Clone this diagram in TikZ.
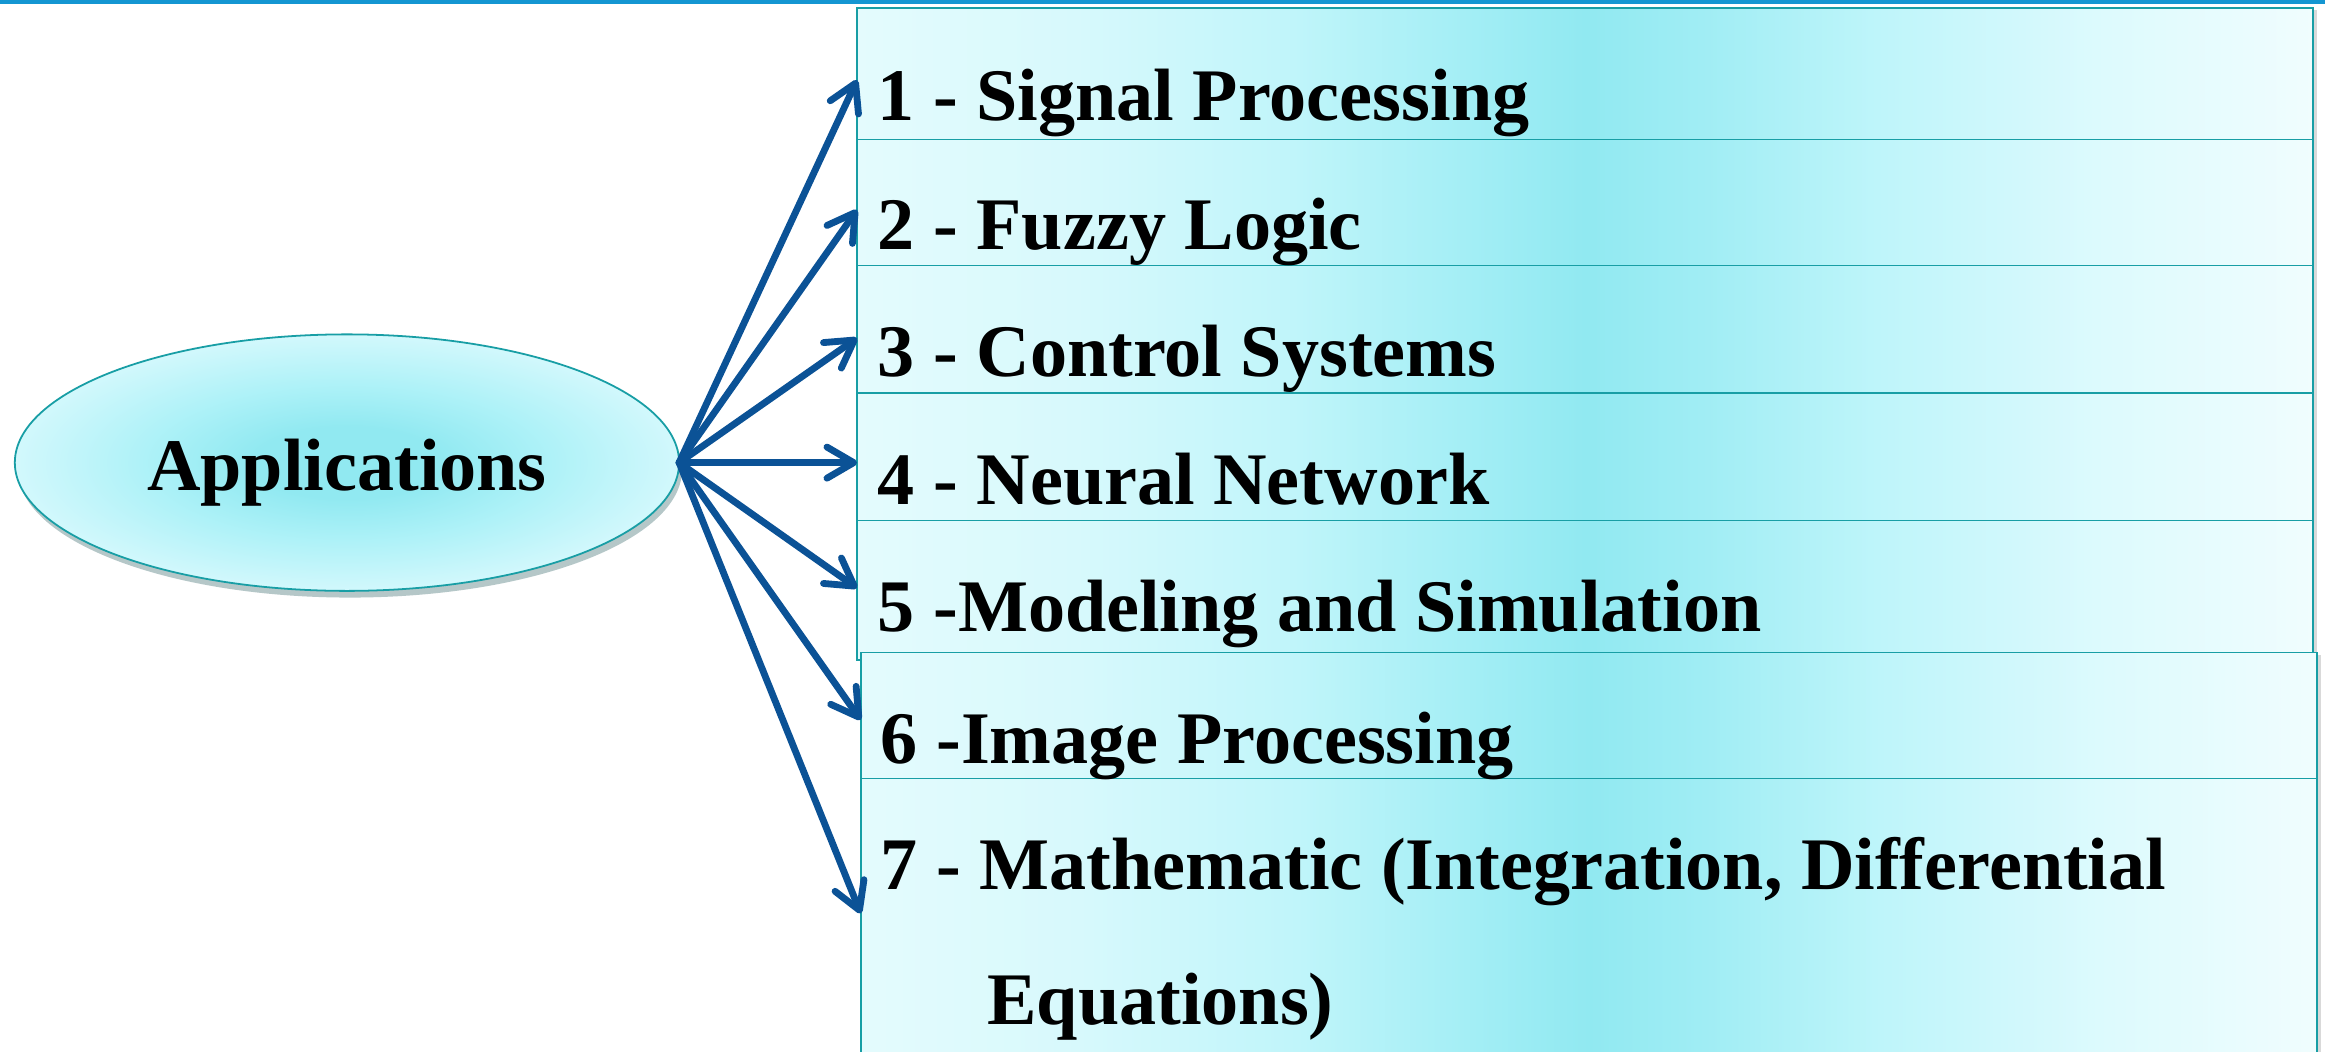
\documentclass[tikz,border=0pt]{standalone}
\usepackage{fontspec}
\setmainfont{Liberation Serif}
\usetikzlibrary{arrows.meta,shadows,shapes.geometric}
\definecolor{topblue}{RGB}{20,150,210}
\definecolor{arrblue}{RGB}{11,82,150}
\definecolor{tealline}{RGB}{24,158,165}
\definecolor{cyC}{RGB}{145,233,241}
\definecolor{cyQ}{RGB}{162,238,245}
\definecolor{cyM}{RGB}{184,245,250}
\definecolor{cyL}{RGB}{210,248,252}
\definecolor{cyE}{RGB}{228,251,253}
\definecolor{cyR}{RGB}{240,253,254}
\definecolor{s1}{RGB}{215,249,252}
\definecolor{s2}{RGB}{192,245,250}
\definecolor{s3}{RGB}{163,238,245}
\definecolor{s4}{RGB}{160,237,244}
\definecolor{s5}{RGB}{190,245,250}
\definecolor{s6}{RGB}{220,250,253}
\pgfdeclarehorizontalshading{boxshade}{100bp}{color(0bp)=(cyE); color(25bp)=(cyE); color(32.5bp)=(s1); color(40bp)=(s2); color(46bp)=(s3); color(50bp)=(cyC); color(54bp)=(s4); color(60bp)=(s5); color(67.5bp)=(s6); color(75bp)=(cyR); color(100bp)=(cyR)}
\pgfdeclareradialshading{ellshade}{\pgfpoint{0bp}{0bp}}{color(0bp)=(cyC); color(7bp)=(cyC); color(15bp)=(cyQ!50!cyM); color(25bp)=(cyL); color(50bp)=(cyL)}
\begin{document}
\begin{tikzpicture}[x=1pt,y=-1pt,
  every node/.style={inner sep=0pt, outer sep=0pt},
  itembox/.style={draw=tealline, line width=1.1pt, rectangle, shade, shading=boxshade,
    anchor=north west, minimum width=982pt,
    drop shadow={shadow xshift=2.5pt, shadow yshift=-1.5pt, opacity=0.15, fill=black}},
  lbl/.style={anchor=base west, font=\fontsize{50}{60}\selectfont\bfseries, text=black},
  arr/.style={draw=arrblue, line width=4.6pt, line cap=round,
    -{Straight Barb[length=18pt,width=21pt,line cap=round,line join=round]}}
]
\useasboundingbox (0,0) rectangle (1568,709);
\clip (0,0) rectangle (1568,709);
\fill[white] (0,0) rectangle (1568,709);
\fill[topblue] (0,0) rectangle (1568,2.5);

% ellipse
\node[draw=tealline, line width=1.2pt, ellipse, minimum width=448pt, minimum height=173pt,
  shade, shading=ellshade,
  drop shadow={shadow xshift=2pt, shadow yshift=-4.5pt, opacity=0.3, fill=tealline!45!black}] (app) at (234,312) {};
\node[lbl, anchor=base] (apt) at (234,330.5) {Applications};

% boxes
\node[itembox, minimum height=88.5pt] (b1) at (578,5.5) {};
\node[itembox, minimum height=85pt] (b2) at (578,94) {};
\node[itembox, minimum height=86pt] (b3) at (578,179) {};
\node[itembox, minimum height=86pt] (b4) at (578,265) {};
\node[itembox, minimum height=94pt] (b5) at (578,351) {};
\node[itembox, minimum height=85pt] (b6) at (580.5,440) {};
\node[itembox, minimum height=200pt] (b7) at (580.5,525) {};

% labels
\node[lbl] (l1) at (592,81) {1 - Signal Processing};
\node[lbl] (l2) at (592,168) {2 - Fuzzy Logic};
\node[lbl] (l3) at (592,254) {3 - Control Systems};
\node[lbl] (l4) at (592,340) {4 - Neural Network};
\node[lbl] (l5) at (592,426) {5 -Modeling and Simulation};
\node[lbl] (l6) at (594,515) {6 -Image Processing};
\node[lbl] (l7) at (594,600) {7 - Mathematic (Integration, Differential};
\node[lbl] (l7b) at (666,691) {Equations)};

% arrows
\draw[arr] (app.east) -- ([yshift=-4.25pt]b1.west);
\draw[arr] (app.east) -- ([yshift=-5pt]b2.west);
\draw[arr] (app.east) -- ([yshift=-6pt]b3.west);
\draw[arr] (app.east) -- ([yshift=-4pt]b4.west);
\draw[arr] (app.east) -- ([yshift=1.4pt]b5.west);
\draw[arr] (app.east) -- ([yshift=-3pt]b6.west);
\draw[arr] (app.east) -- ([yshift=9pt]b7.west);
\end{tikzpicture}
\end{document}
